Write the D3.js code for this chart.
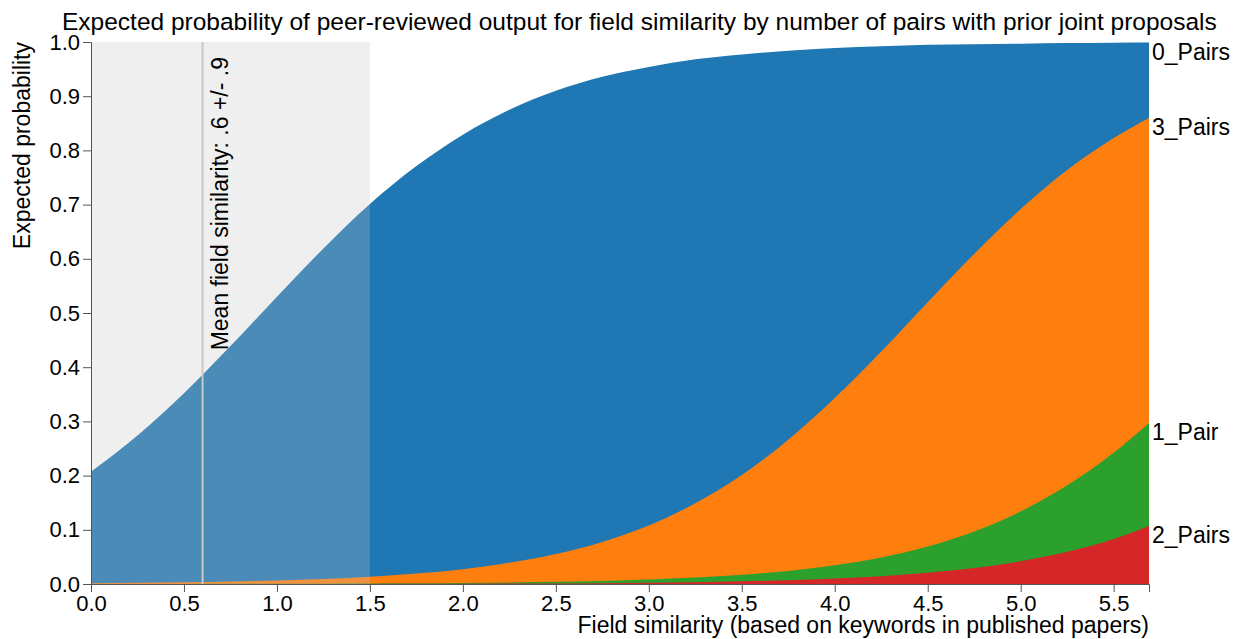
<!DOCTYPE html>
<html>
<head>
<meta charset="utf-8">
<script src="https://cdn.jsdelivr.net/npm/d3@7"></script>
<style>
  body { margin: 0; background: #fff; }
  svg text { font-family: "Liberation Sans", Arial, Helvetica, sans-serif; fill: #000; }
  .axis path, .axis line { stroke: #555; }
  .axis text { font-size: 22px; }
</style>
</head>
<body>
<svg id="chart" width="1241" height="639"></svg>
<script>
// field similarity values where the curves were read
var fieldSim = [0, 0.25, 0.5, 0.75, 1.0, 1.25, 1.5, 1.75, 2.0, 2.25, 2.5, 2.75,
                3.0, 3.25, 3.5, 3.75, 4.0, 4.25, 4.5, 4.75, 5.0, 5.25, 5.5, 5.69];

// expected probability per group
var pairs0 = [0.207, 0.274, 0.352, 0.439, 0.530, 0.619, 0.701, 0.771, 0.829, 0.875, 0.910, 0.936,
              0.954, 0.968, 0.977, 0.984, 0.989, 0.992, 0.995, 0.996, 0.997, 0.998, 0.9988, 0.9991];
var pairs3 = [0.0015, 0.0022, 0.0031, 0.0045, 0.0065, 0.0093, 0.0134, 0.0192, 0.0274, 0.039, 0.0552, 0.0776,
              0.108, 0.149, 0.201, 0.266, 0.343, 0.429, 0.520, 0.609, 0.692, 0.764, 0.823, 0.860];
var pair1 = [0.0001, 0.00013, 0.0002, 0.0003, 0.00045, 0.00065, 0.0009, 0.0013, 0.0019, 0.0028, 0.004, 0.0057,
             0.0082, 0.0118, 0.0169, 0.0242, 0.0345, 0.049, 0.0691, 0.0967, 0.134, 0.182, 0.242, 0.297];
var pairs2 = [0.00003, 0.00004, 0.00005, 0.00007, 0.0001, 0.00015, 0.0002, 0.0003, 0.0005, 0.0007, 0.0011, 0.0016,
              0.0024, 0.0034, 0.0049, 0.007, 0.0101, 0.0144, 0.0206, 0.0295, 0.0419, 0.0593, 0.0832, 0.107];

var seriesNames = ["0_Pairs", "3_Pairs", "1_Pair", "2_Pairs"];
var seriesValues = [pairs0, pairs3, pair1, pairs2];
var seriesColors = ["#1f77b4", "#ff7f0e", "#2ca02c", "#d62728"];

var xTicks = [0, 0.5, 1, 1.5, 2, 2.5, 3, 3.5, 4, 4.5, 5, 5.5];
var yTicks = [0, 0.1, 0.2, 0.3, 0.4, 0.5, 0.6, 0.7, 0.8, 0.9, 1.0];

var meanSim = 0.6, sdSim = 0.9;

var margin = {top: 42, right: 92, bottom: 55, left: 91};
var svg = d3.select("#chart");
var width = +svg.attr("width") - margin.left - margin.right;
var height = +svg.attr("height") - margin.top - margin.bottom;

var x = d3.scaleLinear().domain([0, 5.69]).range([0, width]);
var y = d3.scaleLinear().domain([0, 1]).range([height, 0]);

var g = svg.append("g")
    .attr("transform", "translate(" + margin.left + "," + margin.top + ")");

var area = d3.area()
    .curve(d3.curveMonotoneX)
    .x(function(d) { return x(d[0]); })
    .y0(y(0))
    .y1(function(d) { return y(d[1]); });

seriesValues.forEach(function(vals, i) {
    var pts = fieldSim.map(function(s, j) { return [s, vals[j]]; });
    g.append("path")
        .datum(pts)
        .attr("fill", seriesColors[i])
        .attr("d", area);

    // series name at the right end of its curve
    g.append("text")
        .attr("x", width + 3)
        .attr("y", y(vals[vals.length - 1]))
        .attr("dy", "0.74em")
        .style("font-size", "23px")
        .text(seriesNames[i]);
});

// band of mean +/- sd
g.append("rect")
    .attr("x", x(Math.max(0, meanSim - sdSim)))
    .attr("y", 0)
    .attr("width", x(meanSim + sdSim) - x(Math.max(0, meanSim - sdSim)))
    .attr("height", height)
    .attr("fill", "#c4c4c4")
    .attr("fill-opacity", 0.27);

g.append("line")
    .attr("x1", x(meanSim)).attr("x2", x(meanSim))
    .attr("y1", 0).attr("y2", height)
    .attr("stroke", "#c8c8c8")
    .attr("stroke-width", 2);

g.append("text")
    .attr("transform", "translate(" + (x(meanSim) + 25) + ",15)rotate(-90)")
    .attr("text-anchor", "end")
    .style("font-size", "23px")
    .text("Mean field similarity: .6 +/- .9");

g.append("g")
    .attr("class", "axis axis--x")
    .attr("transform", "translate(0," + height + ")")
    .call(d3.axisBottom(x).tickValues(xTicks).tickFormat(d3.format(".1f")).tickSize(8));

g.append("g")
    .attr("class", "axis axis--y")
    .call(d3.axisLeft(y).tickValues(yTicks).tickFormat(d3.format(".1f")).tickSize(8));

// titles
svg.append("text")
    .attr("x", 62)
    .attr("y", 30)
    .style("font-size", "24.5px")
    .text("Expected probability of peer-reviewed output for field similarity by number of pairs with prior joint proposals");

svg.append("text")
    .attr("x", margin.left + width)
    .attr("y", 633)
    .attr("text-anchor", "end")
    .style("font-size", "23px")
    .text("Field similarity (based on keywords in published papers)");

svg.append("text")
    .attr("transform", "translate(30," + margin.top + ")rotate(-90)")
    .attr("text-anchor", "end")
    .style("font-size", "23px")
    .text("Expected probability");
</script>
</body>
</html>
